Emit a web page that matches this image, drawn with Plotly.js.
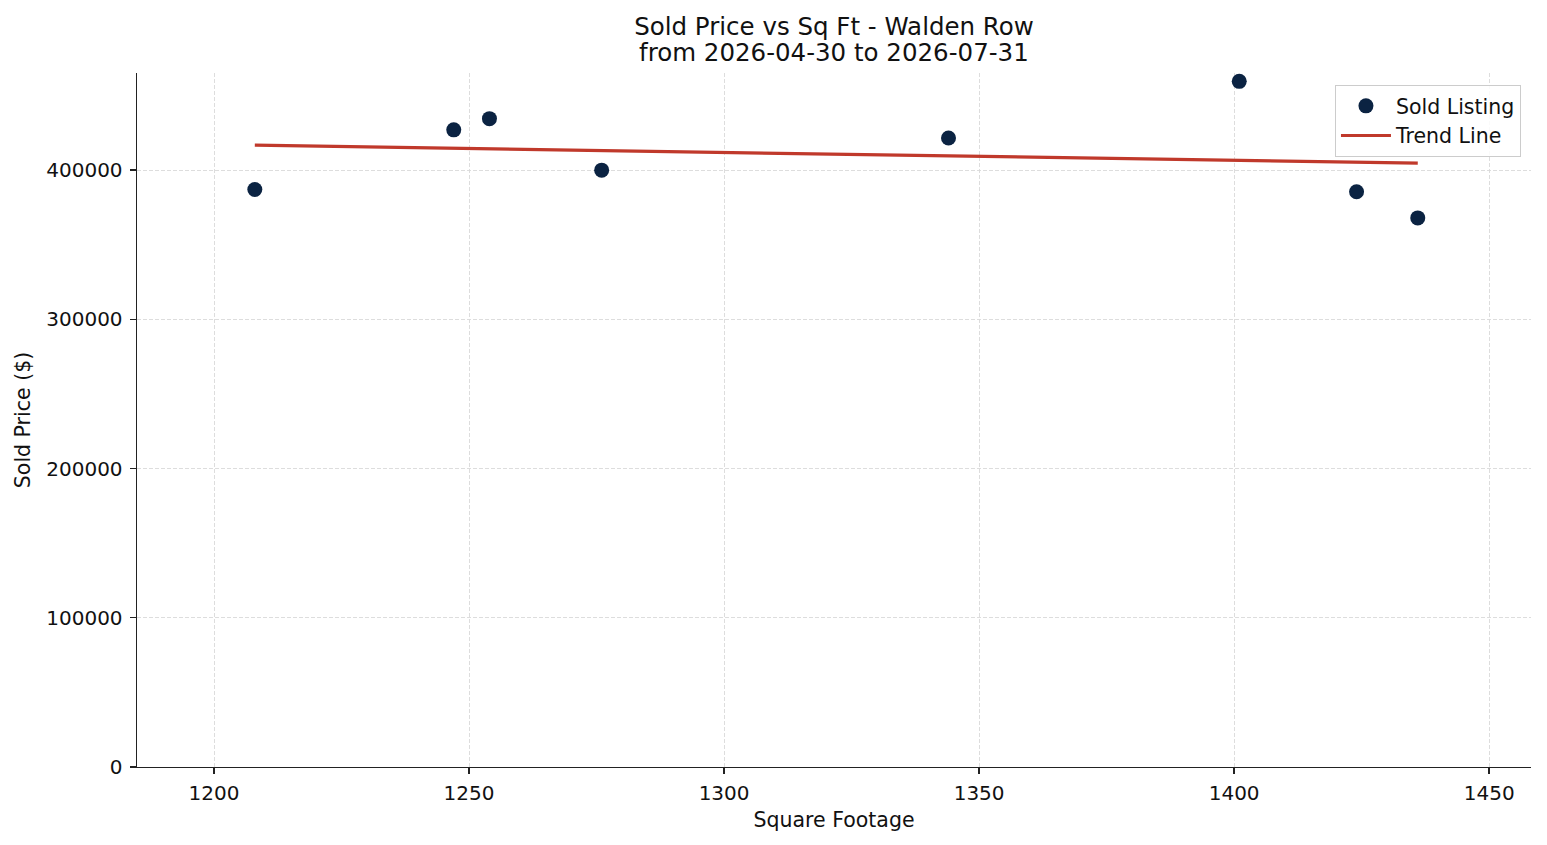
<!DOCTYPE html>
<html>
<head>
<meta charset="utf-8">
<script src="https://cdn.plot.ly/plotly-3.0.1.min.js"></script>
<style>
  html, body { margin: 0; padding: 0; background: #fff; }
  #chart { width: 1547px; height: 845px; }
</style>
</head>
<body>
<div id="chart"></div>
<script>
// sold listings
const sqft = [1208, 1247, 1254, 1276, 1344, 1401, 1424, 1436];
const soldPrice = [387000, 427000, 434500, 400000, 421500, 459500, 385500, 368000];

// trend line end points
const trendX = [1208, 1436];
const trendY = [416700, 404700];

const xTicks = [1200, 1250, 1300, 1350, 1400, 1450];
const yTicks = [0, 100000, 200000, 300000, 400000];

const titleLines = ["Sold Price vs Sq Ft - Walden Row", "from 2026-04-30 to 2026-07-31"];

const font = "DejaVu Sans, Noto Sans, sans-serif";

var scatter = {
  x: sqft,
  y: soldPrice,
  mode: "markers",
  type: "scatter",
  name: "Sold Listing",
  marker: { color: "#0b2342", size: 15 },
};

var trend = {
  x: trendX,
  y: trendY,
  mode: "lines",
  type: "scatter",
  name: "Trend Line",
  line: { color: "#c0392b", width: 3.2 },
};

var axisStyle = {
  showline: true,
  linecolor: "#222",
  linewidth: 1.4,
  ticks: "outside",
  ticklen: 6,
  tickwidth: 1.4,
  tickcolor: "#222",
  showgrid: true,
  gridcolor: "#d9d9d9",
  griddash: "4px,2px",
  gridwidth: 0.9,
  zeroline: false,
  mirror: false,
  tickfont: { family: font, size: 20, color: "#111" },
};

var layout = {
  width: 1547,
  height: 845,
  margin: { l: 137, r: 16, t: 73, b: 78 },
  paper_bgcolor: "#fff",
  plot_bgcolor: "#fff",
  font: { family: font, color: "#111" },
  title: {
    text: titleLines[0],
    font: { family: font, size: 24.5, color: "#111" },
    x: 0.5,
    xref: "paper",
    yref: "container",
    y: 1 - 26 / 845,
    yanchor: "middle",
  },
  annotations: [
    {
      text: titleLines[1],
      xref: "paper",
      yref: "paper",
      x: 0.5,
      y: 1 + (73 - 53) / 694,
      xanchor: "center",
      yanchor: "middle",
      showarrow: false,
      font: { family: font, size: 24.5, color: "#111" },
    },
  ],
  xaxis: Object.assign({}, axisStyle, {
    range: [1184.9, 1458.2],
    tickvals: xTicks,
    ticktext: xTicks.map(String),
    ticklabelstandoff: 2,
    title: { text: "Square Footage", font: { family: font, size: 20.5 }, standoff: 8 },
  }),
  yaxis: Object.assign({}, axisStyle, {
    range: [0, 465100],
    tickvals: yTicks,
    ticktext: yTicks.map(String),
    ticklabelstandoff: 3,
    title: { text: "Sold Price ($)", font: { family: font, size: 20.5 }, standoff: 10 },
  }),
  legend: {
    x: 0.9928,
    y: 0.9827,
    xanchor: "right",
    yanchor: "top",
    bgcolor: "rgba(255,255,255,0.85)",
    bordercolor: "#cccccc",
    borderwidth: 1,
    itemwidth: 50,
    font: { family: font, size: 20.5, color: "#111" },
  },
  showlegend: true,
};

Plotly.newPlot("chart", [scatter, trend], layout, { displayModeBar: false, staticPlot: true });
</script>
</body>
</html>
